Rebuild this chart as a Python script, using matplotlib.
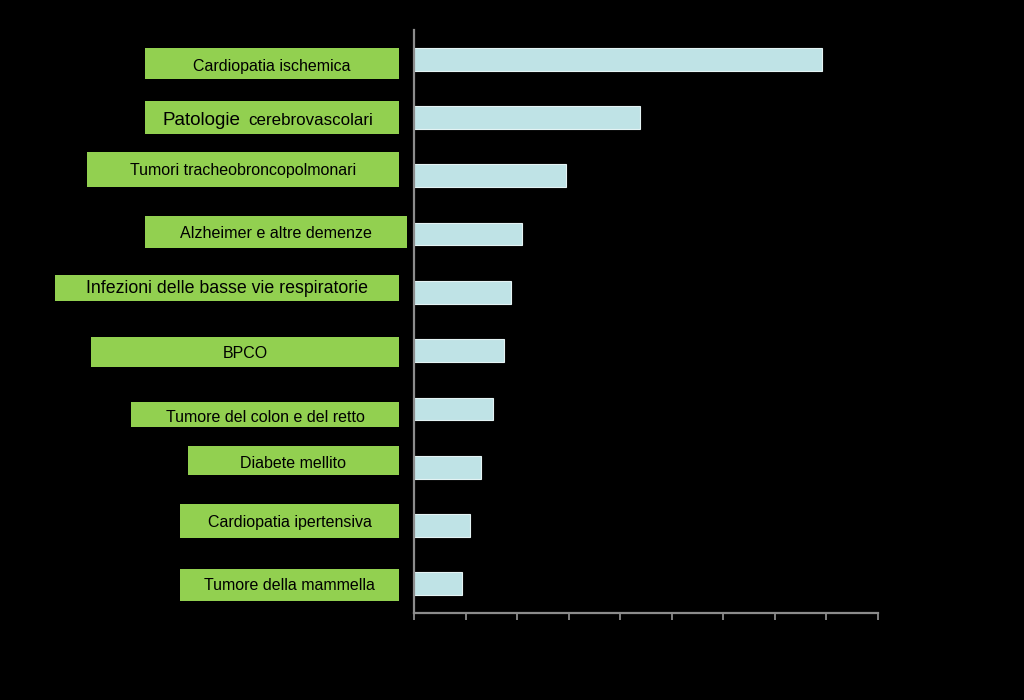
import matplotlib
matplotlib.use("Agg")
import matplotlib.pyplot as plt
from matplotlib.patches import Rectangle

plt.rcParams['font.family'] = ['Liberation Sans', 'DejaVu Sans']

# ---- data ----
categories = [
    "Cardiopatia ischemica",
    "Patologie cerebrovascolari",
    "Tumori tracheobroncopolmonari",
    "Alzheimer e altre demenze",
    "Infezioni delle basse vie respiratorie",
    "BPCO",
    "Tumore del colon e del retto",
    "Diabete mellito",
    "Cardiopatia ipertensiva",
    "Tumore della mammella",
]
values = [7.91, 4.39, 2.94, 2.10, 1.89, 1.75, 1.54, 1.29, 1.09, 0.94]
xticks = list(range(10))

# ---- layout (pixels in a 1024x700 canvas): label boxes left, right, top, bottom ----
boxes = [
    (145, 399, 48, 79),
    (145, 399, 101, 134),
    (87, 399, 152, 187),
    (145, 407, 216, 248),
    (55, 399, 275, 301),
    (91, 399, 337, 367),
    (131, 399, 402, 427),
    (188, 399, 446, 475),
    (180, 399, 504, 538),
    (180, 399, 569, 601),
]
text_y = [66, 118, 171, 233, 288, 353, 417, 463, 523, 585]
label_sizes = [11.5, 12.2, 11.5, 11.6, 12.8, 11.5, 11.5, 11.5, 11.5, 11.5]

W, H = 1024, 700
fig = plt.figure(figsize=(W / 100, H / 100), dpi=100, facecolor='black')
ax = fig.add_axes([414 / W, 1 - 613 / H, (878 - 414) / W, (613 - 30) / H])
ax.set_facecolor('black')

ypos = list(range(len(categories)))
ax.barh(ypos, values, height=0.39, color='#bfe3e6', edgecolor='#e4f3f4', linewidth=0.8, zorder=2)
ax.set_xlim(0, 9)
ax.set_ylim(len(categories) - 0.5, -0.5)

for s in ['top', 'right']:
    ax.spines[s].set_visible(False)
for s in ['left', 'bottom']:
    ax.spines[s].set_color('#8c8c8c')
    ax.spines[s].set_linewidth(1.6)
    ax.spines[s].set_zorder(3)
ax.set_xticks(xticks)
ax.set_xticklabels([])
ax.tick_params(axis='x', colors='#8c8c8c', length=5, width=1.3, direction='out')
ax.set_yticks([])

def fx(x):
    return x / W

def fy(y):
    return 1 - y / H

green = '#92d050'
for i, (name, (l, r, t, b), fs, ty) in enumerate(zip(categories, boxes, label_sizes, text_y)):
    fig.patches.append(Rectangle((fx(l), fy(b)), fx(r) - fx(l), fy(t) - fy(b),
                                 transform=fig.transFigure, facecolor=green,
                                 edgecolor='none', zorder=1))
    cx = (l + r) / 2
    if name.startswith("Patologie"):
        base = 125
        fig.text(fx(241), fy(base), "Patologie", ha='right', va='baseline',
                 fontsize=13.6, color='black')
        fig.text(fx(248), fy(base), "cerebrovascolari", ha='left', va='baseline',
                 fontsize=12.2, color='black')
    else:
        fig.text(fx(cx), fy(ty), name, ha='center', va='center',
                 fontsize=fs, color='black')

fig.savefig('out.png', dpi=100, facecolor='black')
